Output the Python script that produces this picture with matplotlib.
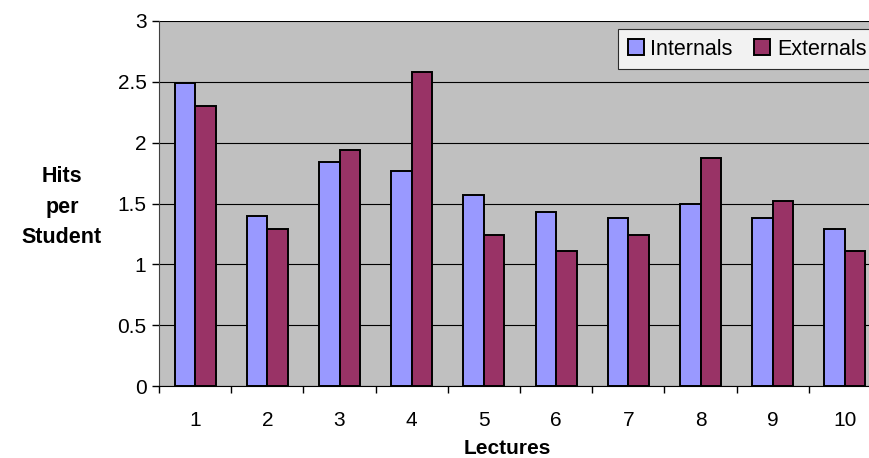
import numpy as np
import matplotlib.pyplot as plt
from matplotlib.ticker import FixedLocator

plt.rcParams['font.family'] = ['Liberation Sans', 'DejaVu Sans']

# Hits per student for each lecture
lectures = [1, 2, 3, 4, 5, 6, 7, 8, 9, 10]
internals = [2.49, 1.40, 1.84, 1.77, 1.57, 1.43, 1.38, 1.50, 1.38, 1.29]
externals = [2.30, 1.29, 1.94, 2.58, 1.24, 1.11, 1.24, 1.87, 1.52, 1.11]
yticks = [0, 0.5, 1, 1.5, 2, 2.5, 3]
ytick_labels = ['0', '0.5', '1', '1.5', '2', '2.5', '3']

fig = plt.figure(figsize=(8.69, 4.58), dpi=100)
ax = fig.add_axes([159 / 869, 72 / 458, 1 - 159 / 869, 365 / 458])
ax.set_facecolor('#C0C0C0')

x = np.array(lectures)
w = 0.285
ax.bar(x - w / 2, internals, w, color='#9999FF', edgecolor='black',
       linewidth=1.4, label='Internals', zorder=3)
ax.bar(x + w / 2, externals, w, color='#993366', edgecolor='black',
       linewidth=1.4, label='Externals', zorder=3)

ax.set_ylim(0, 3)
ax.set_xlim(0.5, 0.5 + 710 / 72.2)
ax.yaxis.set_major_locator(FixedLocator(yticks))
ax.set_yticklabels(ytick_labels)
ax.grid(axis='y', color='black', linewidth=0.8, zorder=1)

ax.set_xticks(x)
ax.set_xticklabels([str(v) for v in lectures])
ax.xaxis.set_minor_locator(FixedLocator(np.arange(0.5, 11, 1)))
ax.tick_params(axis='x', which='major', length=0, pad=18, labelsize=15)
ax.tick_params(axis='x', which='minor', length=5, width=1, direction='out')
ax.tick_params(axis='y', length=5, width=1, direction='out', labelsize=15, pad=4)

for s in ['top', 'right']:
    ax.spines[s].set_visible(False)
ax.spines['left'].set_color('#404040')
ax.spines['bottom'].set_color('black')

fig.text(507 / 869, 1 - 448 / 458, 'Lectures', ha='center', va='center',
         fontsize=15, fontweight='bold')
fig.text(62 / 869, 1 - 207 / 458, 'Hits\nper\nStudent', ha='center', va='center',
         fontsize=15.5, fontweight='bold', linespacing=1.6)

leg = ax.legend(loc='upper left', bbox_to_anchor=(618 / 869, 1 - 29 / 458),
                bbox_transform=fig.transFigure, ncol=2, frameon=True, fancybox=False,
                fontsize=15.5, handlelength=0.75, handleheight=0.75, handletextpad=0.3,
                columnspacing=1.0, borderpad=0.45, borderaxespad=0)
leg.get_frame().set_edgecolor('black')
leg.get_frame().set_linewidth(0.8)

plt.savefig('out.png', dpi=100)
